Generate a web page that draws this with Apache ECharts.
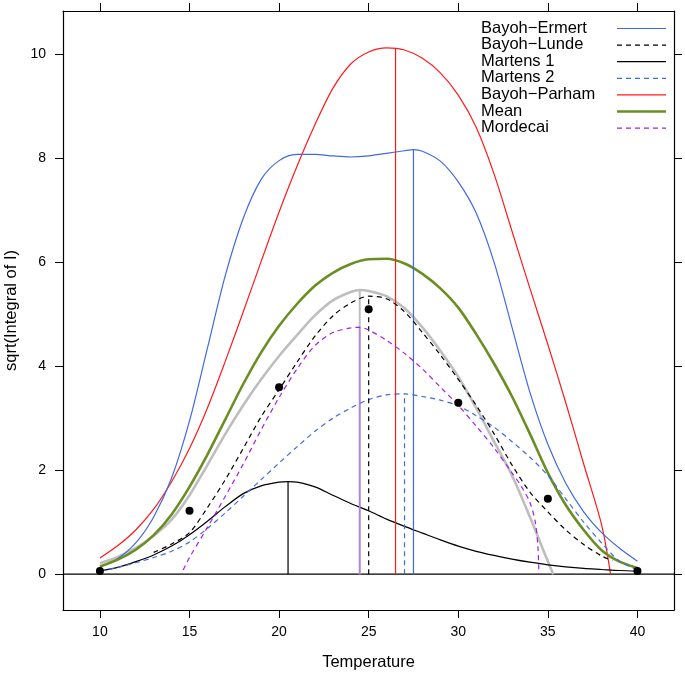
<!DOCTYPE html>
<html><head><meta charset="utf-8">
<script src="https://cdn.jsdelivr.net/npm/echarts@6/dist/echarts.min.js"></script>
<style>html,body{margin:0;padding:0;background:#fff}#c{width:685px;height:673px}</style>
</head><body><div id="c"></div><script>
// ---- data ----
const xTicks = [10, 15, 20, 25, 30, 35, 40];
const yTicks = [0, 2, 4, 6, 8, 10];
const legendNames = ['Bayoh\u2212Ermert', 'Bayoh\u2212Lunde', 'Martens 1', 'Martens 2', 'Bayoh\u2212Parham', 'Mean', 'Mordecai'];

const ermert = [[10,0.13],[11,0.3],[12,0.6],[13,1.1],[14,1.85],[15,2.95],[16,4.35],[17,5.75],[18,6.85],[19,7.6],[20,7.96],[21,8.08],[22,8.08],[23,8.05],[24,8.03],[25,8.05],[26,8.1],[27,8.15],[27.5,8.17],[28,8.14],[29,7.95],[30,7.55],[31,6.95],[32,6.0],[33,4.75],[34,3.5],[35,2.5],[36,1.75],[37,1.2],[38,0.8],[39,0.5],[40,0.25]];
const lunde = [[13,0.42],[14,0.58],[15,0.8],[16,1.28],[17,1.82],[18,2.42],[19,3.03],[20,3.55],[21,4.08],[22,4.58],[23,4.97],[24,5.22],[25,5.35],[26,5.3],[27,5.05],[28,4.65],[29,4.22],[30,3.75],[31,3.25],[32,2.7],[33,2.1],[34,1.58],[35,1.2],[36,0.85],[37,0.57],[38,0.35],[38.6,0.26]];
const martens1 = [[10,0.06],[11,0.13],[12,0.24],[13,0.37],[14,0.54],[15,0.76],[16,1.02],[17,1.3],[18,1.55],[19,1.7],[20,1.77],[20.5,1.78],[21,1.77],[22,1.68],[23,1.52],[24,1.36],[25,1.22],[26,1.06],[27,0.92],[28,0.79],[29,0.66],[30,0.54],[31,0.44],[32,0.36],[33,0.29],[34,0.23],[35,0.18],[36,0.14],[37,0.11],[38,0.09],[39,0.07],[40,0.06]];
const martens2 = [[10,0.06],[11,0.13],[12,0.22],[13,0.32],[14,0.44],[15,0.62],[16,0.88],[17,1.18],[18,1.5],[19,1.82],[20,2.14],[21,2.45],[22,2.75],[23,3.0],[24,3.2],[25,3.36],[26,3.45],[27,3.47],[28,3.42],[29,3.35],[30,3.24],[31,3.05],[32,2.83],[33,2.55],[34,2.25],[35,1.9],[36,1.45],[37,1.0],[38,0.6],[39,0.25],[40,0.08]];
const parham = [[10,0.31],[11,0.55],[12,0.85],[13,1.25],[14,1.78],[15,2.42],[16,3.2],[17,4.1],[18,5.05],[19,6.02],[20,6.97],[21,7.85],[22,8.65],[23,9.35],[24,9.82],[25,10.05],[26,10.13],[27,10.09],[28,9.93],[29,9.65],[30,9.22],[31,8.6],[32,7.7],[33,6.6],[34,5.5],[35,4.42],[36,3.3],[37,2.12],[38,0.95],[38.5,0.0]];
const meanCurve = [[10,0.15],[11,0.28],[12,0.47],[13,0.75],[14,1.15],[15,1.68],[16,2.3],[17,2.98],[18,3.66],[19,4.27],[20,4.78],[21,5.2],[22,5.55],[23,5.8],[24,5.97],[25,6.06],[26,6.07],[27,5.98],[28,5.78],[29,5.5],[30,5.13],[31,4.62],[32,4.05],[33,3.42],[34,2.7],[35,1.95],[36,1.33],[37,0.85],[38,0.46],[39,0.24],[40,0.12]];
const mordecai = [[14.65,0.08],[15,0.32],[16,0.9],[17,1.5],[18,2.12],[19,2.78],[20,3.4],[21,3.95],[22,4.4],[23,4.65],[24,4.74],[24.5,4.75],[25,4.7],[26,4.5],[27,4.25],[28,3.95],[29,3.6],[30,3.25],[31,2.85],[32,2.43],[33,1.95],[33.5,1.7],[34,1.38],[34.3,1.0],[34.45,0.5],[34.5,0.0]];
const grayCurve = [[10,0.21],[11,0.33],[12,0.5],[13,0.74],[14,1.05],[15,1.52],[16,2.1],[17,2.7],[18,3.25],[19,3.75],[20,4.2],[21,4.6],[22,4.98],[23,5.27],[24,5.43],[24.5,5.47],[25,5.45],[26,5.35],[27,5.12],[28,4.75],[29,4.3],[30,3.8],[31,3.2],[32,2.55],[33,1.9],[34,1.1],[34.7,0.5],[35.3,0.0]];
const obsT = [10, 15, 20, 25, 30, 35, 40];
const obsV = [0.06, 1.22, 3.6, 5.1, 3.3, 1.45, 0.06];
// optimum markers: [T, peak value]
const optM1 = [20.5, 1.78];
const optMord = [24.5, 4.75];
const optGray = [24.5, 5.47];
const optLunde = [25, 5.35];
const optParham = [26.5, 10.13];
const optM2 = [27, 3.47];
const optErmert = [27.5, 8.17];

// ---- styling ----
const X_MIN = 7.94, X_MAX = 42.04, Y_MIN = -0.69, Y_MAX = 10.84;
const BLUE = '#4169e1', RED = '#ff1a1a', GREEN = '#6b8e23', PURPLE = '#a020f0', GRAY = '#bebebe';
const FONT = 'Liberation Sans, Arial, Helvetica, sans-serif';
const DASH = [5, 4];

function curve(name, data, color, width, dash, z) {
  return { type: 'line', name, data, smooth: 0.3, symbol: 'none', showSymbol: false,
    lineStyle: { color, width, type: dash ? DASH : 'solid' }, silent: true, z: z || 2 };
}
function vline(p, color, width, dash, z) {
  return { type: 'line', data: [[p[0], 0], [p[0], p[1]]], symbol: 'none', showSymbol: false,
    lineStyle: { color, width, type: dash ? DASH : 'solid' }, silent: true, z: z || 3 };
}

const series = [
  { type: 'line', data: [[X_MIN, 0], [X_MAX, 0]], symbol: 'none', lineStyle: { color: '#000', width: 1.2 }, silent: true, z: 1 },
  curve('gray', grayCurve, GRAY, 2.6, false, 2),
  vline(optGray, GRAY, 2, false, 2),
  curve('Bayoh-Parham', parham, RED, 1.2, false, 3),
  curve('Bayoh-Ermert', ermert, BLUE, 1.2, false, 3),
  curve('Mean', meanCurve, GREEN, 2.6, false, 3),
  curve('Martens 1', martens1, '#000', 1.2, false, 3),
  curve('Martens 2', martens2, BLUE, 1.2, true, 3),
  curve('Bayoh-Lunde', lunde, '#000', 1.2, true, 4),
  curve('Mordecai', mordecai, PURPLE, 1.2, true, 4),
  vline(optM1, '#000', 1.2, false),
  vline(optMord, '#b27fe3', 1.6, false),
  vline(optLunde, '#000', 1.2, true),
  vline(optParham, RED, 1.2, false),
  vline(optM2, BLUE, 1.2, true),
  vline(optErmert, BLUE, 1.2, false),
  { type: 'scatter', data: obsT.map((t, i) => [t, obsV[i]]), symbol: 'circle', symbolSize: 8,
    itemStyle: { color: '#000', opacity: 1 }, silent: true, z: 6 }
];

// legend drawn as graphic (text left, line key right, as in reference)
const legendColors = [BLUE, '#000', '#000', BLUE, RED, GREEN, PURPLE];
const legendDash = [false, true, false, true, false, false, true];
const legendWidth = [1.2, 1.2, 1.2, 1.2, 1.2, 2.6, 1.2];
const graphics = [];
legendNames.forEach((n, i) => {
  const y = 28.5 + i * 16.6;
  graphics.push({ type: 'text', left: 481, top: y - 9, silent: true,
    style: { text: n, fill: '#000', font: '16.5px ' + FONT } });
  graphics.push({ type: 'line', silent: true,
    shape: { x1: 617, y1: y, x2: 666, y2: y },
    style: { stroke: legendColors[i], lineWidth: legendWidth[i], lineDash: legendDash[i] ? DASH : null } });
});

const axisCommon = {
  type: 'value', splitLine: { show: false },
  axisLine: { show: true, onZero: false, lineStyle: { color: '#000', width: 1.2 } },
};

const chart = echarts.init(document.getElementById('c'), null, { renderer: 'canvas' });
chart.setOption({
  animation: false,
  backgroundColor: '#fff',
  grid: { left: 63, right: 11, top: 11, bottom: 63, containLabel: false, outerBoundsMode: 'none' },
  xAxis: [
    Object.assign({}, axisCommon, { position: 'bottom', min: X_MIN, max: X_MAX,
      name: 'Temperature', nameLocation: 'middle', nameGap: 44,
      nameTextStyle: { fontSize: 16.5, fontFamily: FONT, color: '#000' },
      axisTick: { show: true, inside: false, length: 8, customValues: xTicks, lineStyle: { color: '#000' } },
      axisLabel: { show: true, customValues: xTicks, margin: 15, fontSize: 14, fontFamily: FONT, color: '#000' } }),
    Object.assign({}, axisCommon, { position: 'top', min: X_MIN, max: X_MAX,
      axisTick: { show: true, inside: false, length: 8, customValues: xTicks, lineStyle: { color: '#000' } },
      axisLabel: { show: false } })
  ],
  yAxis: [
    Object.assign({}, axisCommon, { position: 'left', min: Y_MIN, max: Y_MAX,
      name: 'sqrt(Integral of I)', nameLocation: 'middle', nameGap: 40, nameRotate: 90,
      nameTextStyle: { fontSize: 16.5, fontFamily: FONT, color: '#000' },
      axisTick: { show: true, inside: false, length: 8, customValues: yTicks, lineStyle: { color: '#000' } },
      axisLabel: { show: true, customValues: yTicks, margin: 17, fontSize: 14, fontFamily: FONT, color: '#000' } }),
    Object.assign({}, axisCommon, { position: 'right', min: Y_MIN, max: Y_MAX,
      axisTick: { show: true, inside: false, length: 8, customValues: yTicks, lineStyle: { color: '#000' } },
      axisLabel: { show: false } })
  ],
  series: series,
  graphic: graphics
});
</script></body></html>
